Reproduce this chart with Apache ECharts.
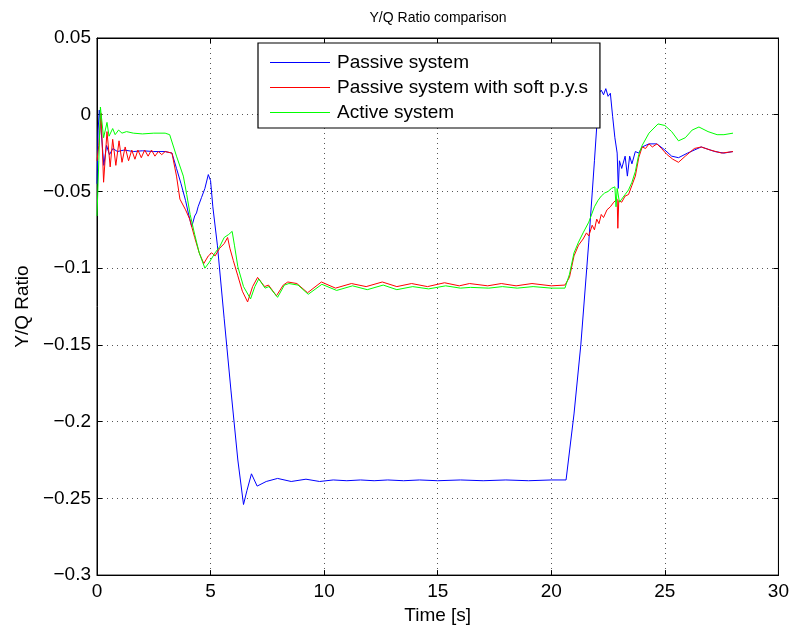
<!DOCTYPE html>
<html><head><meta charset="utf-8">
<script src="https://cdn.jsdelivr.net/npm/echarts@6/dist/echarts.min.js"></script>
<style>html,body{margin:0;padding:0;background:#fff}#c{width:792px;height:630px}</style>
</head><body><div id="c"></div><script>
const seriesNames = ['Passive system', 'Passive system with soft p.y.s', 'Active system'];
const xTicks = [0, 5, 10, 15, 20, 25, 30];
const yTicks = [-0.3, -0.25, -0.2, -0.15, -0.1, -0.05, 0, 0.05];

const passive = [
[0,-0.045],[0.05,-0.01],[0.1,0.003],[0.18,-0.01],[0.3,-0.033],[0.42,-0.02],[0.55,-0.026],[0.7,-0.022],[0.9,-0.024],
[1.2,-0.023],[1.6,-0.024],[2.0,-0.0235],[2.5,-0.024],[3.0,-0.024],[3.3,-0.025],[3.5,-0.035],[3.7,-0.045],[3.9,-0.056],
[4.05,-0.066],[4.17,-0.073],[4.3,-0.066],[4.38,-0.064],[4.45,-0.06],[4.52,-0.061],[4.6,-0.054],[4.68,-0.055],[4.75,-0.048],[4.9,-0.039],[5.0,-0.043],
[5.1,-0.06],[5.3,-0.085],[5.6,-0.133],[5.9,-0.18],[6.2,-0.225],[6.45,-0.254],[6.6,-0.245],[6.8,-0.234],[7.05,-0.242],
[7.45,-0.239],[7.95,-0.237],[8.55,-0.239],[9.2,-0.2375],[9.8,-0.239],[10.4,-0.238],[11.0,-0.2385],[11.6,-0.238],
[12.2,-0.2385],[12.8,-0.238],[13.5,-0.2385],[14.2,-0.238],[15.0,-0.2385],[16.0,-0.238],[17.0,-0.2385],[18.0,-0.238],
[19.0,-0.2385],[20.0,-0.238],[20.65,-0.238],[21.0,-0.195],[21.3,-0.15],[21.65,-0.083],[21.9,-0.03],[22.1,0.014],
[22.2,0.016],[22.3,0.013],[22.4,0.017],[22.5,0.012],[22.6,0.014],[22.7,-0.001],[22.8,-0.015],[22.9,-0.025],[22.95,-0.048],
[23.0,-0.03],[23.1,-0.035],[23.25,-0.027],[23.35,-0.04],[23.45,-0.027],[23.55,-0.032],[23.7,-0.024],[23.85,-0.025],
[24.0,-0.021],[24.3,-0.019],[24.65,-0.019],[25.0,-0.023],[25.3,-0.027],[25.6,-0.028],[26.0,-0.025],[26.6,-0.021],
[27.2,-0.024],[27.6,-0.025],[28.0,-0.024]
];

const softPys = [
[0,-0.03],[0.08,-0.02],[0.18,0.001],[0.29,-0.044],[0.44,-0.011],[0.58,-0.034],[0.69,-0.016],[0.83,-0.033],[0.97,-0.017],
[1.1,-0.031],[1.24,-0.021],[1.39,-0.030],[1.53,-0.023],[1.67,-0.029],[1.8,-0.023],[1.95,-0.028],[2.1,-0.023],[2.25,-0.027],
[2.4,-0.023],[2.55,-0.027],[2.7,-0.024],[2.85,-0.026],[3.0,-0.024],[3.3,-0.025],[3.5,-0.04],[3.65,-0.055],[3.9,-0.062],
[4.08,-0.068],[4.3,-0.08],[4.5,-0.09],[4.7,-0.097],[4.9,-0.092],[5.05,-0.09],[5.2,-0.092],[5.4,-0.087],[5.6,-0.084],
[5.75,-0.080],[5.85,-0.087],[6.0,-0.095],[6.2,-0.105],[6.4,-0.115],[6.63,-0.122],[6.85,-0.112],[7.07,-0.106],[7.38,-0.112],
[7.55,-0.111],[7.9,-0.118],[8.2,-0.111],[8.4,-0.109],[8.8,-0.110],[9.27,-0.116],[9.88,-0.109],[10.5,-0.113],[11.2,-0.110],
[11.85,-0.112],[12.56,-0.109],[13.2,-0.112],[13.85,-0.110],[14.55,-0.112],[15.3,-0.1095],[15.95,-0.1115],[16.4,-0.110],
[17.2,-0.1115],[17.8,-0.110],[18.45,-0.1115],[19.15,-0.110],[20.0,-0.1115],[20.6,-0.111],[20.8,-0.106],[21.0,-0.092],
[21.2,-0.085],[21.4,-0.081],[21.55,-0.077],[21.65,-0.079],[21.8,-0.072],[21.9,-0.075],[22.0,-0.068],[22.1,-0.071],
[22.2,-0.065],[22.3,-0.067],[22.45,-0.062],[22.6,-0.060],[22.75,-0.057],[22.9,-0.055],[22.93,-0.074],[22.97,-0.056],
[23.1,-0.057],[23.25,-0.053],[23.4,-0.052],[23.55,-0.046],[23.7,-0.040],[23.85,-0.028],[24.0,-0.021],[24.15,-0.022],
[24.3,-0.019],[24.45,-0.021],[24.65,-0.019],[24.85,-0.022],[25.1,-0.026],[25.35,-0.029],[25.6,-0.031],[25.9,-0.027],
[26.3,-0.022],[26.6,-0.021],[27.0,-0.023],[27.5,-0.025],[28.0,-0.024]
];

const active = [
[0,-0.066],[0.08,-0.03],[0.15,0.005],[0.29,-0.015],[0.44,-0.005],[0.53,-0.014],[0.69,-0.009],[0.8,-0.013],[0.95,-0.010],
[1.1,-0.012],[1.3,-0.011],[1.6,-0.012],[2.0,-0.0125],[2.5,-0.012],[3.0,-0.012],[3.2,-0.013],[3.5,-0.027],[3.8,-0.04],
[3.95,-0.052],[4.1,-0.065],[4.3,-0.078],[4.5,-0.09],[4.75,-0.100],[4.95,-0.096],[5.2,-0.090],[5.4,-0.086],[5.6,-0.080],
[5.8,-0.078],[5.95,-0.076],[6.05,-0.085],[6.2,-0.099],[6.45,-0.112],[6.76,-0.120],[6.95,-0.112],[7.12,-0.107],[7.4,-0.113],
[7.57,-0.112],[7.95,-0.119],[8.25,-0.111],[8.45,-0.110],[8.85,-0.111],[9.3,-0.117],[9.9,-0.1105],[10.55,-0.1145],
[11.25,-0.1115],[11.9,-0.114],[12.6,-0.111],[13.2,-0.114],[13.9,-0.112],[14.6,-0.1135],[15.35,-0.1115],[16.0,-0.113],
[16.45,-0.1125],[17.25,-0.113],[17.85,-0.112],[18.5,-0.113],[19.2,-0.112],[20.0,-0.113],[20.6,-0.113],[20.8,-0.104],
[21.0,-0.090],[21.2,-0.083],[21.4,-0.077],[21.65,-0.070],[21.9,-0.060],[22.05,-0.056],[22.2,-0.053],[22.35,-0.051],
[22.5,-0.050],[22.65,-0.048],[22.8,-0.047],[22.85,-0.060],[22.9,-0.048],[23.0,-0.057],[23.1,-0.055],[23.25,-0.052],
[23.4,-0.049],[23.55,-0.044],[23.7,-0.037],[23.85,-0.026],[24.0,-0.020],[24.3,-0.012],[24.7,-0.006],[25.0,-0.007],
[25.3,-0.011],[25.6,-0.017],[25.9,-0.015],[26.2,-0.010],[26.5,-0.008],[26.9,-0.011],[27.3,-0.013],[27.6,-0.013],[28.0,-0.012]
];

const colors = ['#0000ff', '#ff0000', '#00ff00'];
const FONT = '"Liberation Sans", Arial, Helvetica, sans-serif';
const fmtY = v => parseFloat(v.toFixed(2)).toString().replace('-', '\u2212');

const chart = echarts.init(document.getElementById('c'), null, {renderer: 'canvas'});
const gridLine = {show: true, lineStyle: {color: '#555', type: [1, 4], width: 1}};
const axisLineBlack = {show: true, onZero: false, lineStyle: {color: '#000', width: 1}};
const tickIn = {show: true, inside: true, length: 5, lineStyle: {color: '#000'}};

chart.setOption({
  animation: false,
  backgroundColor: '#fff',
  title: {
    text: 'Y/Q Ratio comparison', left: 433, top: 6, textAlign: 'center',
    textStyle: {fontFamily: FONT, fontSize: 14, fontWeight: 'normal', color: '#000'}
  },
  grid: {left: 97, right: 12, top: 38, bottom: 54, show: true, borderColor: '#000', borderWidth: 1},
  legend: {
    orient: 'vertical', left: 258, top: 43,
    data: seriesNames.map(n => ({name: n, icon: 'rect'})),
    backgroundColor: '#fff', borderColor: '#000', borderWidth: 1.2,
    padding: [10, 12, 6, 12], itemGap: 6, itemWidth: 60, itemHeight: 1.2,
    textStyle: {fontFamily: FONT, fontSize: 19, color: '#000', padding: [0, 0, 0, 2], lineHeight: 19}
  },
  xAxis: [{
    type: 'value', min: xTicks[0], max: xTicks[xTicks.length - 1], interval: 5,
    name: 'Time [s]', nameLocation: 'middle', nameGap: 26,
    nameTextStyle: {fontFamily: FONT, fontSize: 19, color: '#000'},
    axisLine: axisLineBlack, axisTick: tickIn, splitLine: gridLine,
    axisLabel: {fontFamily: FONT, fontSize: 19, color: '#000', margin: 7}
  }, {
    type: 'value', position: 'top', min: xTicks[0], max: xTicks[xTicks.length - 1], interval: 5,
    axisLine: axisLineBlack, axisTick: tickIn, splitLine: {show: false}, axisLabel: {show: false}
  }],
  yAxis: [{
    type: 'value', min: yTicks[0], max: yTicks[yTicks.length - 1], interval: 0.05,
    name: 'Y/Q Ratio', nameLocation: 'middle', nameGap: 64, nameRotate: 90,
    nameTextStyle: {fontFamily: FONT, fontSize: 19, color: '#000'},
    axisLine: axisLineBlack, axisTick: tickIn, splitLine: gridLine,
    axisLabel: {fontFamily: FONT, fontSize: 19, color: '#000', margin: 6, formatter: fmtY}
  }, {
    type: 'value', position: 'right', min: yTicks[0], max: yTicks[yTicks.length - 1], interval: 0.05,
    axisLine: axisLineBlack, axisTick: tickIn, splitLine: {show: false}, axisLabel: {show: false}
  }],
  series: [passive, softPys, active].map((d, i) => ({
    name: seriesNames[i], type: 'line', data: d, xAxisIndex: 0, yAxisIndex: 0,
    symbol: 'none', showSymbol: false, smooth: false,
    lineStyle: {color: colors[i], width: 1}, itemStyle: {color: colors[i]}
  }))
});
</script></body></html>
